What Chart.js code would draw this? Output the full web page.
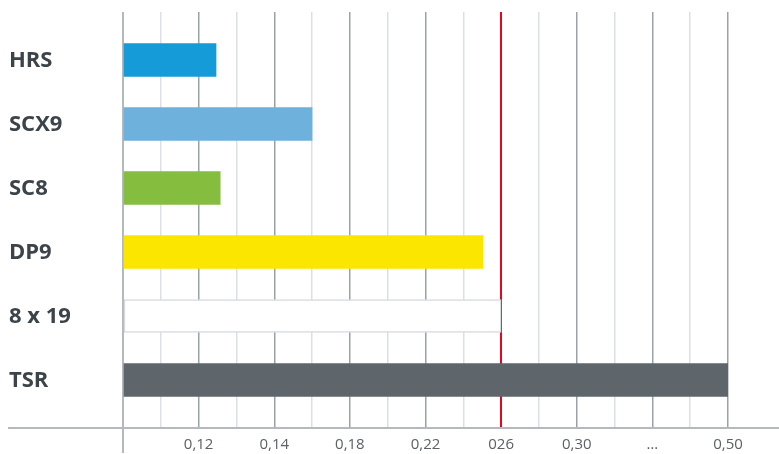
<!DOCTYPE html>
<html>
<head>
<meta charset="utf-8">
<script src="https://cdn.jsdelivr.net/npm/chart.js@4/dist/chart.umd.min.js"></script>
<style>
  html, body { margin: 0; padding: 0; background: #ffffff; }
  #wrap { width: 779px; height: 454px; }
</style>
</head>
<body>
<div id="wrap"><canvas id="c" width="779" height="454"></canvas></div>
<script>
// Product rows, top to bottom
const categories = ['HRS', 'SCX9', 'SC8', 'DP9', '8 x 19', 'TSR'];
// Bar lengths in axis steps (one step = one grid column)
const barSteps = [2.46, 5.0, 2.57, 9.52, 10, 16];
const barColors = ['#159bd7', '#6fb1dd', '#85bd3f', '#fbe600', '#ffffff', '#5e666c'];
const barBorders = ['#159bd7', '#6fb1dd', '#85bd3f', '#fbe600', '#d6dadf', '#5e666c'];
// Axis labels placed on every second grid column
const tickLabels = ['0,12', '0,14', '0,18', '0,22', '026', '0,30', '…', '0,50'];
const tickSteps = [2, 4, 6, 8, 10, 12, 14, 16];
const limitStep = 10; // red limit line

// Baseline across the full width, left axis running down past it,
// and the row names at the left edge.
const frame = {
  id: 'frame',
  afterDatasetsDraw(chart) {
    const { ctx, chartArea, scales } = chart;
    const x0 = scales.x.getPixelForValue(0);
    ctx.save();
    ctx.strokeStyle = '#b4b9be';
    ctx.lineWidth = 2;
    ctx.beginPath();
    ctx.moveTo(8, chartArea.bottom);
    ctx.lineTo(chart.width, chartArea.bottom);
    ctx.moveTo(x0, chartArea.bottom);
    ctx.lineTo(x0, chart.height - 1);
    ctx.stroke();

    ctx.fillStyle = '#3c4449';
    ctx.font = 'bold 22px "Open Sans"';
    ctx.textAlign = 'left';
    ctx.textBaseline = 'middle';
    categories.forEach((name, i) => {
      ctx.fillText(name, 9, scales.y.getPixelForValue(i) + 1);
    });
    ctx.restore();
  }
};

new Chart(document.getElementById('c'), {
  type: 'bar',
  data: {
    datasets: [{
      data: barSteps.map((v, i) => ({ x: v, y: i })),
      backgroundColor: barColors,
      borderColor: barBorders,
      borderWidth: barSteps.map((v, i) => i === 4 ? 1.5 : 0),
      borderSkipped: false,
      barThickness: 33
    }]
  },
  plugins: [frame],
  options: {
    indexAxis: 'y',
    responsive: false,
    animation: false,
    events: [],
    layout: { padding: { left: 9, right: 51, top: 12, bottom: 0 } },
    plugins: { legend: { display: false }, tooltip: { enabled: false } },
    scales: {
      x: {
        type: 'linear',
        min: 0,
        max: 16,
        offset: false,
        border: { display: false },
        afterFit: (s) => { s.height = 26; },
        grid: {
          drawTicks: false,
          offset: false,
          color: (c) => {
            const v = c.tick ? c.tick.value : 0;
            if (v === 0) return '#b4b9be';
            if (v === limitStep) return '#e2071b';
            return v % 2 === 0 ? '#9aa1a7' : '#dce0e4';
          },
          lineWidth: (c) => {
            const v = c.tick ? c.tick.value : 0;
            return (v === 0 || v === limitStep) ? 2 : 1.5;
          }
        },
        ticks: {
          stepSize: 1,
          autoSkip: false,
          maxRotation: 0,
          padding: 8,
          color: '#5b6167',
          font: { family: 'Open Sans', size: 15 },
          callback: (v) => {
            const k = tickSteps.indexOf(v);
            return k >= 0 ? tickLabels[k] : '';
          }
        }
      },
      y: {
        type: 'linear',
        reverse: true,
        min: -0.75,
        max: 5.75,
        offset: false,
        border: { display: false },
        grid: { display: false, offset: false },
        afterFit: (s) => { s.width = 114; },
        ticks: { display: false, stepSize: 1 }
      }
    }
  }
});
</script>
</body>
</html>
